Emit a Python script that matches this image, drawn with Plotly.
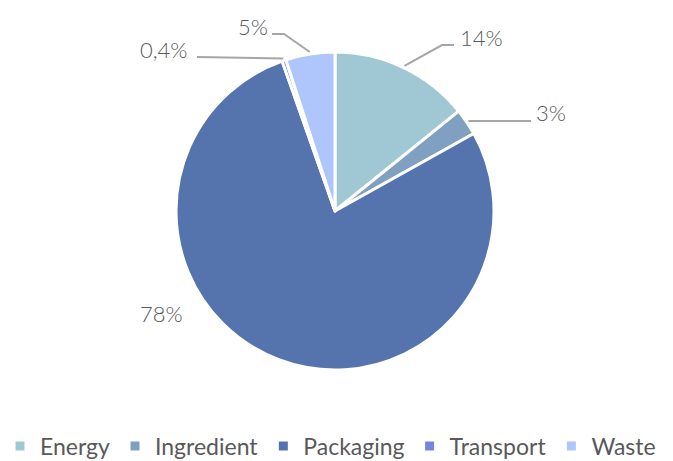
import math
import plotly.graph_objects as go

categories = ["Energy", "Ingredient", "Packaging", "Transport", "Waste"]
values = [14.2, 2.7, 77.7, 0.4, 5.0]
label_texts = ["14%", "3%", "78%", "0,4%", "5%"]
colors = ["#9fc8d4", "#7fa0c0", "#5574ae", "#7486dc", "#aec6fb"]

W, H = 673, 461
CX, CY, R = 335, 211, 159

fig = go.Figure(go.Pie(
    labels=categories,
    values=values,
    sort=False,
    direction="clockwise",
    rotation=0,
    textinfo="none",
    hoverinfo="label+percent",
    marker=dict(colors=colors, line=dict(color="white", width=3)),
    domain=dict(x=[(CX - R) / W, (CX + R) / W], y=[1 - (CY + R) / H, 1 - (CY - R) / H]),
))

def px(x, y):
    return x / W, 1 - y / H

# label positions (pixel text centers) and leader elbows
label_pos = {
    "Energy": (481, 38),
    "Ingredient": (551, 113),
    "Packaging": (161, 313),
    "Transport": (164, 49),
    "Waste": (253, 26),
}
leader_mid = {
    "Energy": [(442, 45), (454, 45)],
    "Ingredient": [(531, 121)],
    "Transport": [(197, 57)],
    "Waste": [(284, 34), (272, 34)],
}

total = sum(values)
cum = 0
annotations = []
shapes = []
for cat, v, txt in zip(categories, values, label_texts):
    mid = (cum + v / 2) / total * 2 * math.pi
    cum += v
    lx, ly = label_pos[cat]
    annotations.append(dict(
        x=px(lx, ly)[0], y=px(lx, ly)[1], xref="paper", yref="paper",
        text=txt, showarrow=False, xanchor="center", yanchor="middle",
        font=dict(family="Lato", size=22, color="#595959", weight=300),
    ))
    if cat in leader_mid:
        sx = CX + (R + 2) * math.sin(mid)
        sy = CY - (R + 2) * math.cos(mid)
        pts = [(sx, sy)] + leader_mid[cat]
        path = "M " + " L ".join(f"{px(a, b)[0]},{px(a, b)[1]}" for a, b in pts)
        shapes.append(dict(type="path", xref="paper", yref="paper", path=path,
                           line=dict(color="#a6a6a6", width=2)))

fig.update_layout(
    width=W, height=H,
    margin=dict(l=0, r=0, t=0, b=0, autoexpand=False),
    paper_bgcolor="white",
    plot_bgcolor="white",
    showlegend=True,
    legend=dict(
        orientation="h", x=0, xanchor="left", y=1 - 446 / H, yanchor="middle",
        font=dict(family="Lato", size=23, color="#595959"),
        itemwidth=30, traceorder="normal",
    ),
    annotations=annotations,
    shapes=shapes,
)

fig.write_html("out.html")
